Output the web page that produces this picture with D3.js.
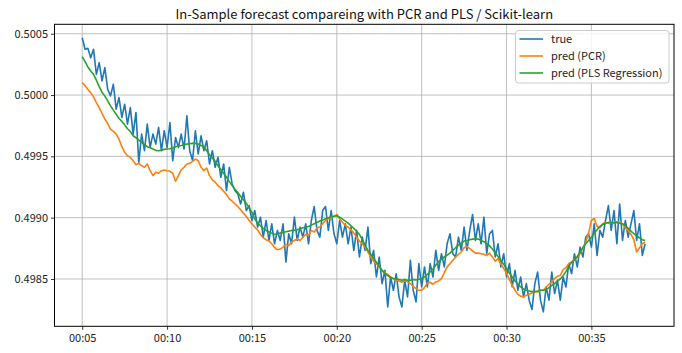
<!DOCTYPE html>
<html lang="en">
    <head>
        <meta charset="utf-8">
        <title>In-Sample forecast</title>
        <script type="text/javascript" src="https://d3js.org/d3.v7.min.js"></script>
        <style type="text/css">
            body{
                margin: 0;
                background: #fff;
            }
            text{
                font-family: 'Noto Sans CJK JP', 'Noto Sans', 'DejaVu Sans', sans-serif;
                fill: #222;
            }
            .grid line{
                stroke: #b0b0b0;
                stroke-width: 0.8;
            }
            .axis path, .axis line{
                stroke: #000;
                stroke-width: 0.8;
            }
            .axis text{
                font-size: 11px;
            }
        </style>
    </head>

    <body>
        <script type="text/javascript">
            // chart size
            const svgW = 682;
            const svgH = 353;

            // sampling of the series (one point every 10 seconds)
            const startTime = "00:05:00";
            const stepSeconds = 10;

            // series names and colours
            const seriesNames = ["true", "pred (PCR)", "pred (PLS Regression)"];
            const seriesColors = ["#1f77b4", "#ff7f0e", "#2ca02c"];

            // observed values
            const trueValues = [
                0.500467,0.500373,0.500381,0.500305,0.500373,0.500169,0.500264,0.500115,0.500224,0.500047,
                0.499993,0.500088,0.499885,0.499980,0.499817,0.499925,0.499763,0.499898,0.499682,0.499858,
                0.499451,0.499682,0.499546,0.499763,0.499573,0.499682,0.499600,0.499736,0.499546,0.499709,
                0.499573,0.499776,0.499465,0.499654,0.499573,0.499682,0.499560,0.499831,0.499546,0.499465,
                0.499709,0.499519,0.499668,0.499546,0.499627,0.499438,0.499546,0.499411,0.499492,0.499329,
                0.499438,0.499221,0.499411,0.499275,0.499221,0.499194,0.499112,0.499207,0.499058,0.499099,
                0.498977,0.499058,0.498923,0.499004,0.498841,0.498977,0.498814,0.498950,0.498787,0.498896,
                0.498814,0.498950,0.498638,0.498869,0.498787,0.499004,0.498814,0.498923,0.498841,0.498950,
                0.498787,0.498977,0.499091,0.498896,0.498841,0.499058,0.499091,0.498896,0.499058,0.498869,
                0.498787,0.498977,0.498841,0.498950,0.498787,0.498923,0.498733,0.498896,0.498679,0.498841,
                0.498733,0.498923,0.498625,0.498733,0.498516,0.498679,0.498462,0.498570,0.498272,0.498516,
                0.498408,0.498543,0.498354,0.498272,0.498489,0.498354,0.498652,0.498408,0.498313,0.498625,
                0.498435,0.498598,0.498435,0.498625,0.498516,0.498733,0.498570,0.498706,0.498598,0.498787,
                0.498869,0.498706,0.498679,0.498841,0.498733,0.498923,0.498733,0.498896,0.499026,0.498814,
                0.498950,0.498787,0.499004,0.498706,0.498869,0.498896,0.498679,0.498787,0.498598,0.498706,
                0.498516,0.498625,0.498435,0.498570,0.498408,0.498516,0.498354,0.498462,0.498327,0.498251,
                0.498462,0.498557,0.498327,0.498232,0.498435,0.498327,0.498557,0.498381,0.498489,0.498327,
                0.498516,0.498435,0.498625,0.498543,0.498706,0.498598,0.498760,0.498679,0.498841,0.498869,
                0.498760,0.498950,0.498692,0.498896,0.498841,0.498977,0.499099,0.498896,0.499058,0.498787,
                0.499112,0.498814,0.498977,0.498841,0.498950,0.499058,0.498814,0.498950,0.498692,0.498787
            ];

            // PCR prediction
            const pcrValues = [
                0.500102,0.500075,0.500045,0.500020,0.499985,0.499939,0.499898,0.499850,0.499804,0.499768,
                0.499722,0.499703,0.499682,0.499641,0.499579,0.499533,0.499505,0.499492,0.499465,0.499432,
                0.499443,0.499424,0.499411,0.499438,0.499383,0.499343,0.499370,0.499362,0.499383,0.499389,
                0.499383,0.499378,0.499362,0.499297,0.499343,0.499389,0.499411,0.499438,0.499443,0.499459,
                0.499478,0.499465,0.499411,0.499383,0.499405,0.499343,0.499308,0.499289,0.499262,0.499243,
                0.499215,0.499188,0.499153,0.499134,0.499112,0.499091,0.499064,0.499037,0.499009,0.498977,
                0.498950,0.498923,0.498901,0.498863,0.498836,0.498820,0.498809,0.498787,0.498755,0.498738,
                0.498744,0.498760,0.498782,0.498771,0.498801,0.498814,0.498828,0.498814,0.498841,0.498863,
                0.498855,0.498896,0.498882,0.498917,0.498923,0.498950,0.498977,0.498991,0.498999,0.499009,
                0.499026,0.498991,0.498963,0.498936,0.498923,0.498901,0.498874,0.498841,0.498809,0.498787,
                0.498760,0.498720,0.498679,0.498646,0.498625,0.498603,0.498570,0.498549,0.498538,0.498516,
                0.498503,0.498489,0.498484,0.498473,0.498489,0.498476,0.498462,0.498440,0.498421,0.498408,
                0.498408,0.498430,0.498467,0.498473,0.498457,0.498476,0.498484,0.498503,0.498549,0.498598,
                0.498625,0.498652,0.498679,0.498701,0.498720,0.498755,0.498766,0.498747,0.498728,0.498711,
                0.498711,0.498706,0.498701,0.498692,0.498711,0.498679,0.498646,0.498665,0.498625,0.498584,
                0.498549,0.498495,0.498449,0.498408,0.498375,0.498359,0.498354,0.498367,0.498375,0.498386,
                0.498394,0.498394,0.498408,0.498408,0.498435,0.498457,0.498476,0.498503,0.498522,0.498530,
                0.498576,0.498592,0.498625,0.498638,0.498657,0.498679,0.498706,0.498755,0.498801,0.498874,
                0.498977,0.498993,0.498928,0.498917,0.498950,0.498963,0.498955,0.498963,0.498955,0.498966,
                0.498961,0.498950,0.498917,0.498896,0.498863,0.498820,0.498720,0.498755,0.498787,0.498801
            ];

            // PLS regression prediction
            const plsValues = [
                0.500313,0.500272,0.500229,0.500196,0.500169,0.500121,0.500069,0.500023,0.499991,0.499953,
                0.499912,0.499877,0.499844,0.499809,0.499785,0.499757,0.499725,0.499703,0.499668,0.499652,
                0.499633,0.499614,0.499595,0.499579,0.499570,0.499560,0.499549,0.499546,0.499551,0.499557,
                0.499560,0.499562,0.499568,0.499579,0.499584,0.499589,0.499595,0.499600,0.499603,0.499606,
                0.499606,0.499600,0.499589,0.499579,0.499546,0.499514,0.499486,0.499459,0.499424,0.499392,
                0.499362,0.499329,0.499294,0.499262,0.499232,0.499205,0.499172,0.499145,0.499118,0.499080,
                0.499042,0.498991,0.498955,0.498934,0.498912,0.498896,0.498885,0.498874,0.498863,0.498869,
                0.498874,0.498879,0.498885,0.498890,0.498896,0.498898,0.498901,0.498909,0.498917,0.498923,
                0.498928,0.498939,0.498950,0.498961,0.498972,0.498980,0.498991,0.498999,0.499007,0.499012,
                0.499015,0.499004,0.498988,0.498972,0.498955,0.498934,0.498912,0.498890,0.498863,0.498820,
                0.498776,0.498733,0.498701,0.498668,0.498636,0.498603,0.498570,0.498543,0.498527,0.498511,
                0.498503,0.498500,0.498495,0.498489,0.498495,0.498489,0.498489,0.498495,0.498492,0.498497,
                0.498503,0.498516,0.498538,0.498557,0.498581,0.498614,0.498641,0.498663,0.498679,0.498695,
                0.498711,0.498733,0.498755,0.498776,0.498793,0.498809,0.498814,0.498820,0.498825,0.498828,
                0.498825,0.498814,0.498804,0.498787,0.498771,0.498744,0.498711,0.498684,0.498652,0.498619,
                0.498587,0.498549,0.498516,0.498484,0.498457,0.498435,0.498419,0.498408,0.498402,0.498397,
                0.498397,0.498402,0.498408,0.498408,0.498413,0.498430,0.498446,0.498462,0.498484,0.498500,
                0.498527,0.498560,0.498603,0.498636,0.498657,0.498684,0.498717,0.498755,0.498787,0.498814,
                0.498841,0.498874,0.498901,0.498928,0.498944,0.498955,0.498961,0.498961,0.498958,0.498961,
                0.498955,0.498950,0.498934,0.498912,0.498890,0.498869,0.498852,0.498836,0.498820,0.498814
            ];

            // tick labels
            const xTickLabels = ["00:05", "00:10", "00:15", "00:20", "00:25", "00:30", "00:35"];
            const yTickValues = [0.4985, 0.4990, 0.4995, 0.5000, 0.5005];

            const chartTitle = "In-Sample forecast compareing with PCR and PLS / Scikit-learn";

            // plot box
            const plotL = 54.5, plotR = 674, plotT = 24.3, plotB = 326.3;

            const parseHM = d3.utcParse("%H:%M");
            const parseHMS = d3.utcParse("%H:%M:%S");
            const t0 = parseHMS(startTime);
            const timeAt = i => new Date(t0.getTime() + i * stepSeconds * 1000);

            // axis limits (matplotlib style margins)
            const xMin = parseHMS("00:03:22");
            const xMax = parseHMS("00:39:52");

            const scaleX = d3.scaleUtc()
                            .domain([xMin, xMax])
                            .range([plotL, plotR]);
            const scaleY = d3.scaleLinear()
                            .domain([0.498114, 0.500577])
                            .range([plotB, plotT]);

            const xTicks = xTickLabels.map(parseHM);

            const svg = d3.select("body")
                        .append("svg")
                        .attr("width", svgW)
                        .attr("height", svgH);

            // grid
            const grid = svg.append("g").attr("class", "grid");
            grid.selectAll("line.gx")
                .data(xTicks)
                .enter()
                .append("line")
                .attr("class", "gx")
                .attr("x1", d => scaleX(d))
                .attr("x2", d => scaleX(d))
                .attr("y1", plotT)
                .attr("y2", plotB);
            grid.selectAll("line.gy")
                .data(yTickValues)
                .enter()
                .append("line")
                .attr("class", "gy")
                .attr("x1", plotL)
                .attr("x2", plotR)
                .attr("y1", d => scaleY(d))
                .attr("y2", d => scaleY(d));

            // lines
            const allSeries = [trueValues, pcrValues, plsValues];
            const line = d3.line()
                            .x((d, i) => scaleX(timeAt(i)))
                            .y(d => scaleY(d));

            const plot = svg.append("g");
            plot.selectAll("path")
                .data(allSeries)
                .enter()
                .append("path")
                .attr("d", d => line(d))
                .attr("fill", "none")
                .attr("stroke", (d, i) => seriesColors[i])
                .attr("stroke-width", 1.6)
                .attr("stroke-linejoin", "round");

            // axes
            const bottomAxis = d3.axisBottom(scaleX)
                                .tickValues(xTicks)
                                .tickFormat(d3.utcFormat("%H:%M"))
                                .tickSize(3.5)
                                .tickPadding(4);
            const leftAxis = d3.axisLeft(scaleY)
                                .tickValues(yTickValues)
                                .tickFormat(d3.format(".4f"))
                                .tickSize(3.5)
                                .tickPadding(3);

            svg.append("g")
                .attr("class", "axis")
                .attr("transform", "translate(0," + plotB + ")")
                .call(bottomAxis)
                .call(g => g.select(".domain").remove());
            svg.append("g")
                .attr("class", "axis")
                .attr("transform", "translate(" + plotL + ",0)")
                .call(leftAxis)
                .call(g => g.select(".domain").remove());

            // frame
            svg.append("rect")
                .attr("x", plotL)
                .attr("y", plotT)
                .attr("width", plotR - plotL)
                .attr("height", plotB - plotT)
                .attr("fill", "none")
                .attr("stroke", "#000")
                .attr("stroke-width", 1);

            // title
            svg.append("text")
                .attr("x", (plotL + plotR) / 2)
                .attr("y", 18.5)
                .attr("text-anchor", "middle")
                .style("font-size", "13px")
                .style("fill", "#111")
                .text(chartTitle);

            // legend
            const legend = svg.append("g");
            legend.append("rect")
                .attr("x", 515.5)
                .attr("y", 30.5)
                .attr("width", 153.5)
                .attr("height", 52.5)
                .attr("rx", 3)
                .attr("fill", "#fff")
                .attr("fill-opacity", 0.8)
                .attr("stroke", "#ccc")
                .attr("stroke-width", 1);
            const items = legend.selectAll("g.item")
                .data(seriesNames)
                .enter()
                .append("g")
                .attr("class", "item")
                .attr("transform", (d, i) => "translate(0," + (39 + i * 17) + ")");
            items.append("line")
                .attr("x1", 519.5)
                .attr("x2", 543)
                .attr("stroke", (d, i) => seriesColors[i])
                .attr("stroke-width", 1.6);
            items.append("text")
                .attr("x", 551)
                .attr("y", 4)
                .style("font-size", "11px")
                .text(d => d);
        </script>
    </body>
</html>
